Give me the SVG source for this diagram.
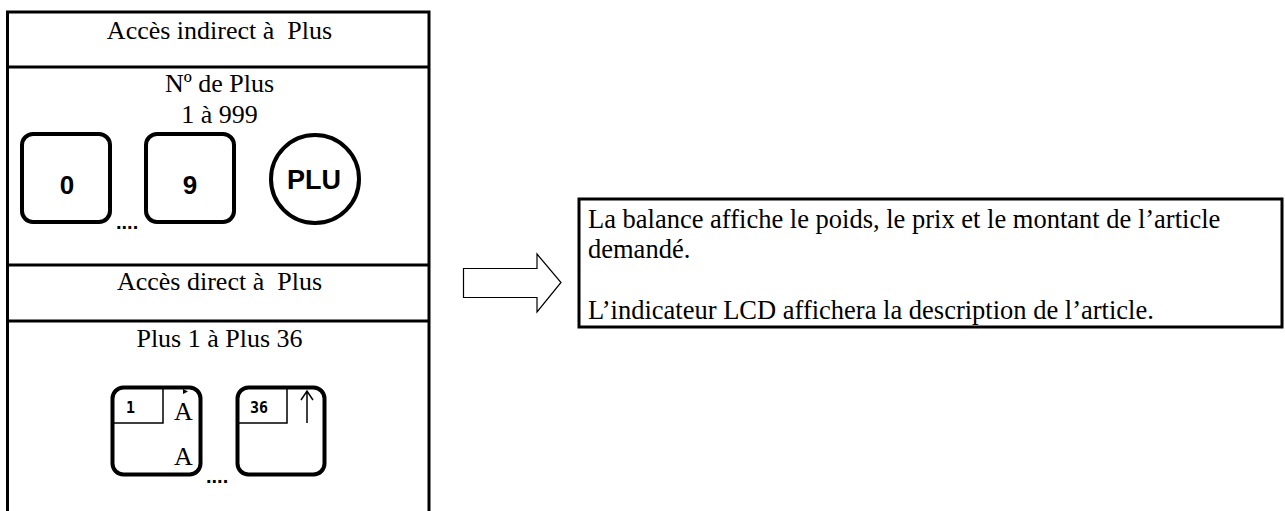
<svg xmlns="http://www.w3.org/2000/svg" width="1285" height="511" viewBox="0 0 1285 511">
<style>
.t{font-family:"Liberation Serif","Times New Roman",serif;font-size:26px;fill:#000;white-space:pre}
.c{text-anchor:middle}
.r{font-size:26.5px}
.k{font-family:"Liberation Sans",Arial,sans-serif;font-weight:bold;font-size:26px;text-anchor:middle;fill:#000}
.m{font-family:"DejaVu Sans Mono","Liberation Mono",monospace;font-weight:bold;font-size:15px;fill:#000}
.b{fill:none;stroke:#000;stroke-width:3}
.thin{fill:none;stroke:#000;stroke-width:1.5}
.key{fill:#fff;stroke:#000;stroke-width:4}
.dots{font-family:"Liberation Sans",Arial,sans-serif;font-weight:bold;font-size:20px;fill:#000}
</style>
<rect width="1285" height="511" fill="#fff"/>
<g id="panel">
<path class="b" d="M7.5,520 V12 H429 V520"/>
<line class="b" x1="7.5" y1="67" x2="429" y2="67"/>
<line class="b" x1="7.5" y1="265" x2="429" y2="265"/>
<line class="b" x1="7.5" y1="321" x2="429" y2="321"/>
<text class="t c" x="219.5" y="39" xml:space="preserve">Accès indirect à  Plus</text>
<text class="t c" x="219.5" y="92">Nº de Plus</text>
<text class="t c" x="219.5" y="123">1 à 999</text>
<text class="t c" x="219.5" y="290" xml:space="preserve">Accès direct à  Plus</text>
<text class="t c" x="219.5" y="347">Plus 1 à Plus 36</text>
</g>
<g id="key-0">
<rect class="key" x="22" y="134" width="88" height="88" rx="11"/>
<text class="k" x="67" y="194">0</text>
</g>
<g id="key-9">
<rect class="key" x="146" y="134" width="88" height="88" rx="11"/>
<text class="k" x="190" y="194">9</text>
</g>
<text class="dots" x="116" y="229">....</text>
<g id="key-plu">
<circle class="key" cx="315" cy="179" r="44"/>
<text class="k" x="314" y="189" style="font-size:27px">PLU</text>
</g>
<g id="key-1">
<rect class="key" x="112.5" y="387.5" width="88" height="87" rx="11"/>
<path class="thin" d="M114,423 H163 V389"/>
<text class="m" x="126" y="413">1</text>
<text class="t" x="174" y="420">A</text>
<path d="M183,389 L188,391.5 L183,394 Z" fill="#000"/>
<text class="t" x="174" y="465">A</text>
</g>
<text class="dots" x="206" y="483">....</text>
<g id="key-36">
<rect class="key" x="237.5" y="387.5" width="87" height="87" rx="11"/>
<path class="thin" d="M239,423 H287 V389"/>
<text class="m" x="250" y="413">36</text>
<path class="thin" d="M307,423 V392 M301,400 L307,391 L313,400"/>
</g>
<g id="connectors">
<path fill="#fff" stroke="#000" stroke-width="1.2" d="M463.5,268.5 H537 V254 L561,282.5 L537,312 V297.5 H463.5 Z"/>
</g>
<g id="result">
<rect class="b" x="579" y="199" width="703" height="128"/>
<text class="t r" x="588" y="228">La balance affiche le poids, le prix et le montant de l’article</text>
<text class="t r" x="588" y="258">demandé.</text>
<text class="t r" x="588" y="319">L’indicateur LCD affichera la description de l’article.</text>
</g>
</svg>
